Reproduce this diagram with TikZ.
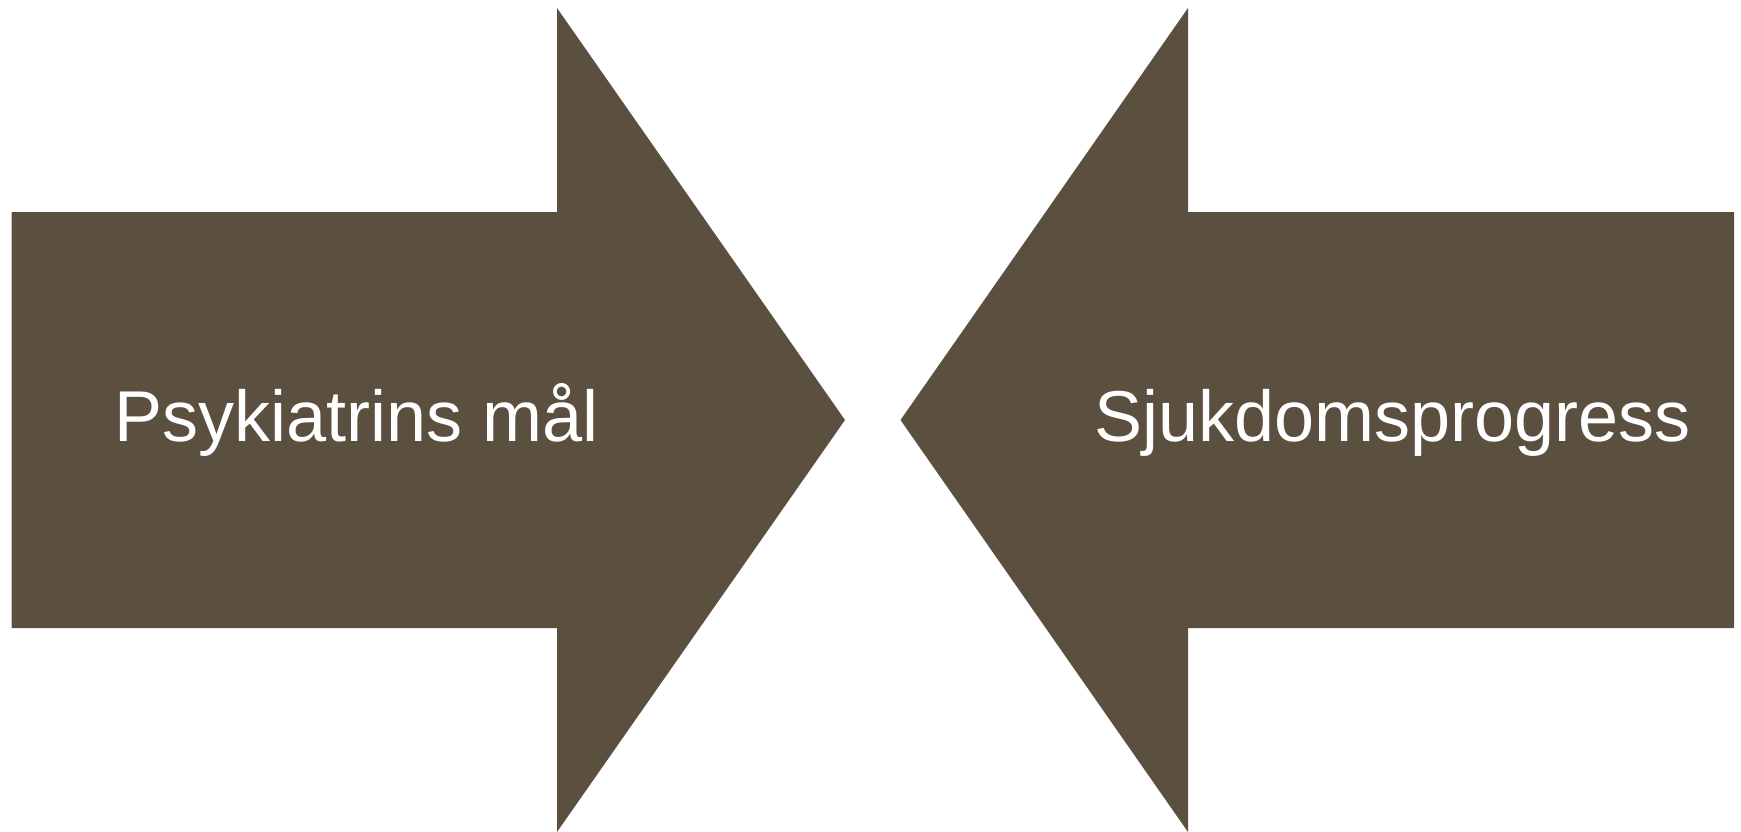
\documentclass[tikz,border=0pt]{standalone}
\usepackage{fontspec}
\setmainfont{Liberation Sans}
\definecolor{arrowbrown}{RGB}{91,79,63}
\tikzset{
  arrowfill/.style={fill=arrowbrown},
  arrowtext/.style={text=white, font=\fontsize{72}{80}\selectfont, anchor=base, inner sep=0pt}
}

\begin{document}
\begin{tikzpicture}[x=1pt, y=-1pt]
  \useasboundingbox (0,0) rectangle (1741,832);
  % left arrow, pointing right
  \fill[arrowfill] (11.5,212) -- (557,212) -- (557,8) -- (845,420)
                   -- (557,832) -- (557,628) -- (11.5,628) -- cycle;
  % right arrow, pointing left
  \fill[arrowfill] (1734,212) -- (1188,212) -- (1188,8) -- (900.5,420)
                   -- (1188,832) -- (1188,628) -- (1734,628) -- cycle;
  \node[arrowtext] (goal) at (356.5,441) {Psykiatrins mål};
  \node[arrowtext] (progress) at (1392.5,441) {Sjukdomsprogress};
\end{tikzpicture}
\end{document}
